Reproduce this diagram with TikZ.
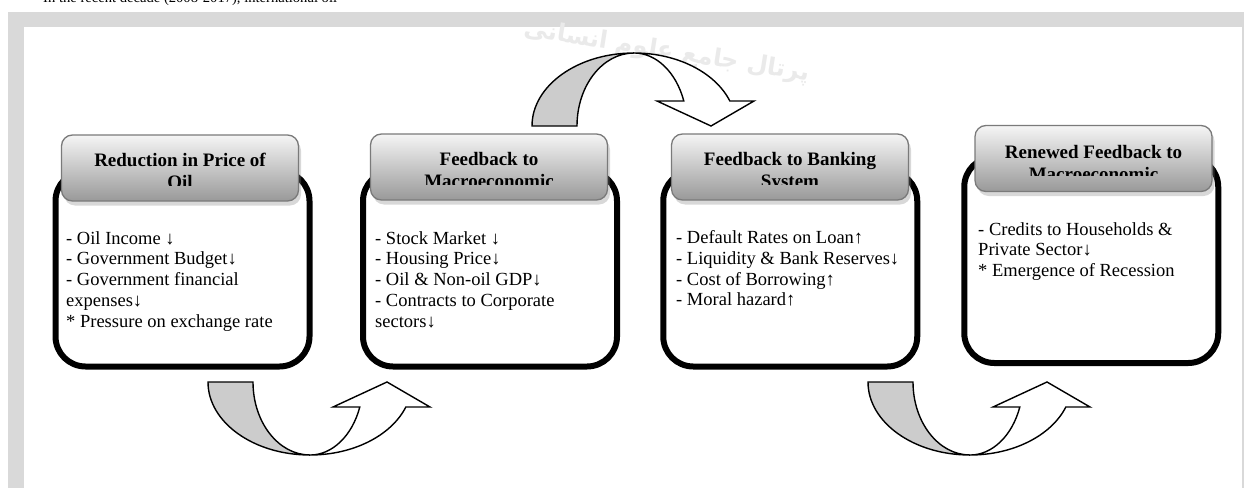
\documentclass[tikz,border=0pt]{standalone}
\usepackage{fontspec}
\setmainfont{Liberation Serif}
\newfontfamily\farsifont[Script=Arabic]{DejaVu Sans}
\TeXXeTstate=1
\usetikzlibrary{shadows}

\definecolor{framegray}{HTML}{D9D9D9}
\definecolor{tailgray}{HTML}{CCCCCC}
\definecolor{headtop}{HTML}{F5F5F5}
\definecolor{headbottom}{HTML}{999999}
\definecolor{headline}{HTML}{7A7A7A}
\definecolor{wmgray}{HTML}{EAEAEA}

% multi-line texts whose baseline is the first line
\newcommand\itemlines[1]{\parbox[t]{270pt}{\raggedright #1}}
\newcommand\headlines[1]{\parbox[t]{232pt}{\centering #1}}

\tikzset{
  arrowline/.style={draw=black, line width=1.4, line join=miter},
  turn arrow/.pic={
    % shaded back of the ribbon
    \filldraw[fill=tailgray, arrowline]
      (-102,0) arc[start angle=180, end angle=90, x radius=102, y radius=73]
               arc[start angle=90, end angle=180, x radius=57, y radius=73] -- cycle;
    % white front of the ribbon with its head
    \filldraw[fill=white, arrowline]
      (0,73) arc[start angle=90, end angle=20, x radius=102, y radius=73]
      -- (120,25) -- (77,0) -- (23,25) -- (49.8,25)
      arc[start angle=20, end angle=90, x radius=53, y radius=73] -- cycle;
  },
  stagebox/.style={draw=black, line width=6, rounded corners=30, fill=white,
    inner sep=0, minimum width=254},
  headbox/.style={draw=headline, line width=1.3, rounded corners=11,
    top color=headtop, bottom color=headbottom, inner sep=0,
    minimum width=237, minimum height=66,
    drop shadow={shadow xshift=2.5pt, shadow yshift=-4.5pt, opacity=.3}},
  headtext/.style={anchor=base, inner sep=0,
    font=\bfseries\fontsize{19}{22}\selectfont},
  bodytext/.style={anchor=base west, inner sep=0,
    font=\fontsize{18.5}{20.8}\selectfont},
}

\begin{document}
\begin{tikzpicture}[x=1pt, y=-1pt]
\useasboundingbox (0,0) rectangle (1244,487);
\clip (0,0) rectangle (1244,487);

% page line above the frame
\node[anchor=base west, inner sep=0, font=\fontsize{14.6}{17}\selectfont]
  (intro) at (43,3) {In the recent decade (2008-2017), international oil};

% grey frame
\fill[framegray] (8,12) rectangle (1244,490);
\fill[white] (24,27) rectangle (1242,490);

% faint logo text
\node[inner sep=0, text=wmgray, rotate=-9,
  font=\farsifont\bfseries\fontsize{24}{30}\selectfont]
  (logo) at (667,52) {\beginR پرتال جامع علوم انسانی\endR};

% stage outlines
\node[stagebox, minimum height=195.5] (s1) at (182.5,268.75) {};
\node[stagebox, minimum height=195.5] (s2) at (490,268.75) {};
\node[stagebox, minimum height=195.5] (s3) at (790.25,268.75) {};
\node[stagebox, minimum height=206] (s4) at (1091.25,260) {};

% stage titles
\node[headbox] (h1) at (180,168) {};
\node[headbox] (h2) at (489,167) {};
\node[headbox] (h3) at (790,167) {};
\node[headbox] (h4) at (1093.5,158.5) {};

\begin{scope}
  \clip (60,134) rectangle (300,185);
  \node[headtext] (t1) at (180,166.5) {\headlines{Reduction in Price of\\Oil}};
\end{scope}
\begin{scope}
  \clip (368,133) rectangle (610,184);
  \node[headtext] (t2) at (489,165.5) {\headlines{Feedback to\\Macroeconomic}};
\end{scope}
\begin{scope}
  \clip (670,133) rectangle (910,184);
  \node[headtext] (t3) at (790,165.5) {\headlines{Feedback to Banking\\System}};
\end{scope}
\begin{scope}
  \clip (973,124) rectangle (1214,175);
  \node[headtext] (t4) at (1093.5,158) {\headlines{Renewed Feedback to\\Macroeconomic}};
\end{scope}

% stage contents
\node[bodytext] (c1) at (66,244) {\itemlines{%
  - Oil Income ↓\\
  - Government Budget↓\\
  - Government financial\\
  expenses↓\\
  {*} Pressure on exchange rate}};
\node[bodytext] (c2) at (375,244) {\itemlines{%
  - Stock Market ↓\\
  - Housing Price↓\\
  - Oil \& Non-oil GDP↓\\
  - Contracts to Corporate\\
  sectors↓}};
\node[bodytext] (c3) at (676,243.5) {\itemlines{%
  - Default Rates on Loan↑\\
  - Liquidity \& Bank Reserves↓\\
  - Cost of Borrowing↑\\
  - Moral hazard↑}};
\node[bodytext] (c4) at (978,235) {\itemlines{%
  - Credits to Households \&\\
  Private Sector↓\\
  {*} Emergence of Recession}};

% curved transition arrows
\pic (turnA) at (310,382) {turn arrow};
\pic[yscale=-1] (turnB) at (634,126) {turn arrow};
\pic (turnC) at (970,382) {turn arrow};
\end{tikzpicture}
\end{document}
